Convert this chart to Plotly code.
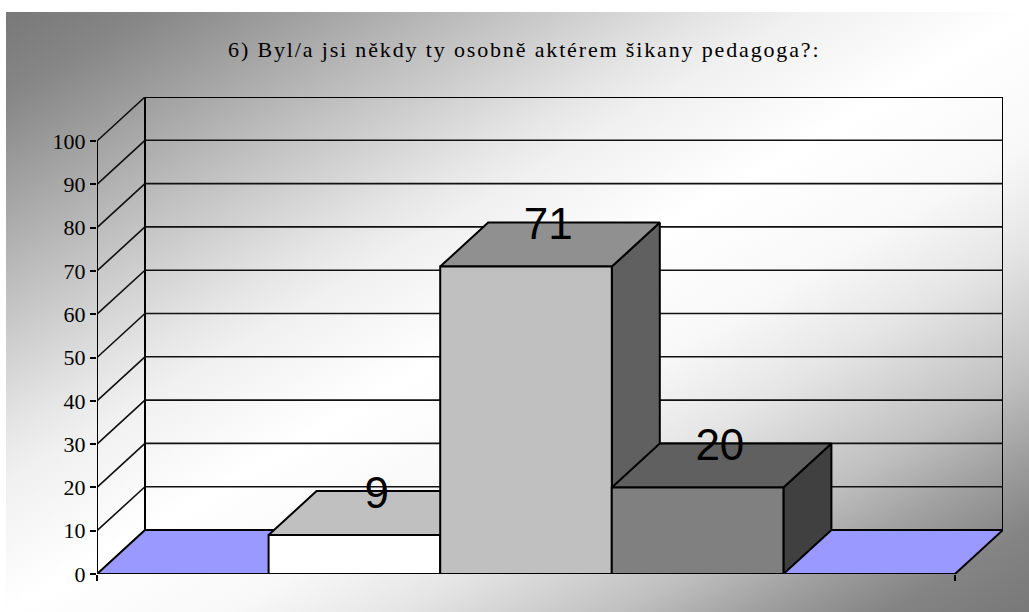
import plotly.graph_objects as go
from urllib.parse import quote

# ---- data ----
categories = ["a", "b", "c", "d", "e"]
values = [0, 9, 71, 20, 0]
value_labels = ["", "9", "71", "20", ""]
tick_values = [0, 10, 20, 30, 40, 50, 60, 70, 80, 90, 100]
title_text = "6) Byl/a jsi někdy ty osobně aktérem šikany pedagoga?:"
front_colors = ["#9999ff", "#ffffff", "#c0c0c0", "#808080", "#9999ff"]
top_colors = ["#9999ff", "#c0c0c0", "#909090", "#606060", "#9999ff"]
side_colors = ["#6666cc", "#808080", "#606060", "#404040", "#6666cc"]

# oblique projection expressed in axis units
DX = 48 / 171.6
DY = 44 / 4.33
n = len(categories)
BLACK = "#000000"

traces = []


def poly(xs, ys, fill):
    traces.append(go.Scatter(x=xs + xs[:1], y=ys + ys[:1], mode="lines", fill="toself",
                             fillcolor=fill, line=dict(color=BLACK, width=2),
                             hoverinfo="skip", showlegend=False, cliponaxis=False))


# walls: gridlines on side wall and back wall
gx, gy = [], []
for v in tick_values:
    gx += [0, DX, n + DX, None]
    gy += [v, v + DY, v + DY, None]
traces.append(go.Scatter(x=gx, y=gy, mode="lines", line=dict(color="#111111", width=1.6),
                         hoverinfo="skip", showlegend=False, cliponaxis=False))
top = tick_values[-1]
traces.append(go.Scatter(x=[0, 0, None, DX, DX, None, n + DX, n + DX, None, DX, n + DX],
                         y=[0, top, None, DY, top + DY, None, DY, top + DY, None, top + DY, top + DY],
                         mode="lines", line=dict(color=BLACK, width=2),
                         hoverinfo="skip", showlegend=False, cliponaxis=False))

# floor
poly([0, n, n + DX, DX], [0, 0, DY, DY], front_colors[0])

# bars, left to right
for i, v in enumerate(values):
    if v == 0:
        continue
    poly([i + 1, i + 1 + DX, i + 1 + DX, i + 1], [0, DY, v + DY, v], side_colors[i])
    poly([i, i + 1, i + 1 + DX, i + DX], [v, v, v + DY, v + DY], top_colors[i])
    poly([i, i + 1, i + 1, i], [0, 0, v, v], front_colors[i])

# front baseline
traces.append(go.Scatter(x=[0, n], y=[0, 0], mode="lines", line=dict(color=BLACK, width=2),
                         hoverinfo="skip", showlegend=False, cliponaxis=False))

# value labels
lx = [i + 0.5 + DX / 2 - 0.01 for i, v in enumerate(values) if v]
ly = [v + DY - 1.3 for v in values if v]
lt = [t for t in value_labels if t]
traces.append(go.Scatter(x=lx, y=ly, mode="text", text=lt, textposition="middle center",
                         textfont=dict(family="Liberation Sans", size=44, color=BLACK),
                         hoverinfo="skip", showlegend=False, cliponaxis=False))

fig = go.Figure(traces)

stops = [(0, 0x78), (0.07, 0x86), (0.23, 0xbe), (0.35, 0xe6), (0.39, 0xf0), (0.5, 0xff),
         (0.61, 0xf8), (0.69, 0xe6), (0.80, 0xc0), (0.865, 0xa0), (0.93, 0x84), (1, 0x78)]
stop_svg = "".join(f"<stop offset='{o}' stop-color='rgb({c},{c},{c})'/>" for o, c in stops)
svg = ("<svg xmlns='http://www.w3.org/2000/svg' width='1023' height='600' preserveAspectRatio='none'>"
       "<defs><linearGradient id='g' x1='0' y1='0' x2='1' y2='1'>" + stop_svg +
       "</linearGradient></defs><rect width='1023' height='600' fill='url(#g)'/></svg>")

W, H = 1029, 612
fig.update_layout(
    width=W, height=H, autosize=False,
    margin=dict(l=97, r=26, t=97, b=38, pad=0),
    paper_bgcolor="#ffffff", plot_bgcolor="rgba(0,0,0,0)", showlegend=False,
    images=[dict(source="data:image/svg+xml," + quote(svg), xref="paper", yref="paper",
                 x=-91 / 906, y=(477 + 85) / 477, sizex=1023 / 906, sizey=600 / 477,
                 xanchor="left", yanchor="top", sizing="stretch", layer="below")],
    annotations=[dict(text=title_text, xref="paper", yref="paper",
                      x=(524 - 97) / 906, y=(574 - 50) / 477, xanchor="center", yanchor="middle",
                      showarrow=False, font=dict(family="Liberation Serif", size=22, color=BLACK))],
    xaxis=dict(range=[0, 906 / 171.6], tickmode="array", tickvals=[0, n], ticktext=["", ""],
               ticks="outside", ticklen=6, tickcolor=BLACK, tickwidth=2,
               showgrid=False, zeroline=False, showline=False, fixedrange=True),
    yaxis=dict(range=[0, 477 / 4.33], tickmode="array", tickvals=tick_values,
               ticktext=[str(t) for t in tick_values], ticks="outside", ticklen=6,
               tickcolor=BLACK, tickwidth=2,
               tickfont=dict(family="Liberation Serif", size=22, color=BLACK),
               showgrid=False, zeroline=False, showline=False, fixedrange=True),
)
post = ("document.body.style.margin='0';document.body.style.overflow='hidden';"
        "document.querySelectorAll('.annotation-text').forEach(function(t){t.style.letterSpacing='1.85px';});")
fig.write_html("out.html", post_script=post, config=dict(displayModeBar=False, staticPlot=True))
